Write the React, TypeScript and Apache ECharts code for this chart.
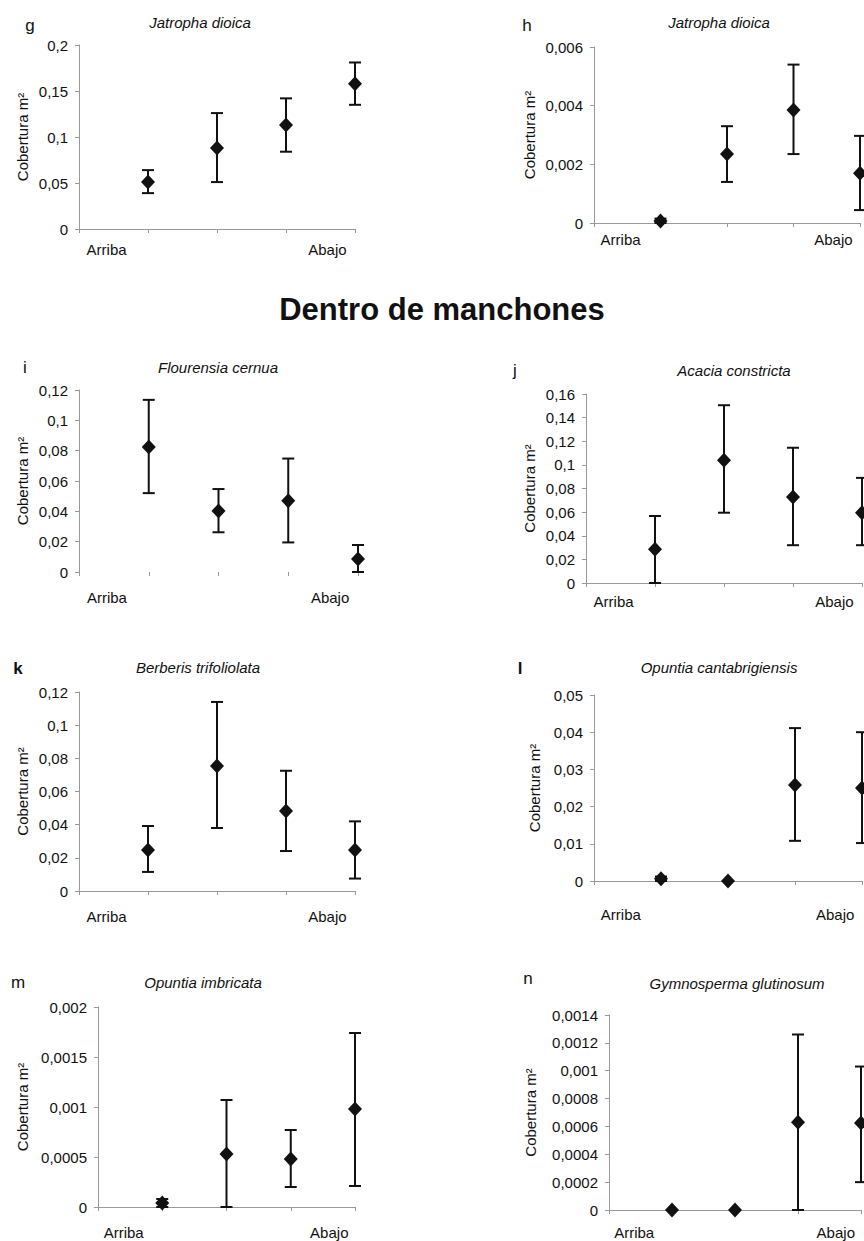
import React, { useEffect, useRef } from "react";
import * as echarts from "echarts";

// ---------- data ----------
const xPositions = [1, 2, 3, 4];
const xLabels = ["Arriba", "", "", "", "Abajo"];
const heading = "Dentro de manchones";

const panelLetters = ["g", "h", "i", "j", "k", "l", "m", "n"];
const panelTitles = [
  "Jatropha dioica",
  "Jatropha dioica",
  "Flourensia cernua",
  "Acacia constricta",
  "Berberis trifoliolata",
  "Opuntia cantabrigiensis",
  "Opuntia imbricata",
  "Gymnosperma glutinosum",
];
const yLabel = "Cobertura m²";

const gMean = [0.051, 0.088, 0.113, 0.158];
const gLow = [0.039, 0.051, 0.084, 0.135];
const gHigh = [0.064, 0.126, 0.142, 0.181];

const hMean = [0.00007, 0.00235, 0.00385, 0.0017];
const hLow = [0, 0.0014, 0.00235, 0.00044];
const hHigh = [0.00015, 0.0033, 0.0054, 0.00297];

const iMean = [0.0825, 0.0403, 0.047, 0.0085];
const iLow = [0.052, 0.0262, 0.0195, 0];
const iHigh = [0.1135, 0.0547, 0.0748, 0.0178];

const jMean = [0.0285, 0.104, 0.0728, 0.0595];
const jLow = [0, 0.0595, 0.032, 0.032];
const jHigh = [0.0567, 0.1505, 0.1145, 0.089];

const kMean = [0.0247, 0.0754, 0.0482, 0.0247];
const kLow = [0.0115, 0.038, 0.0241, 0.0075];
const kHigh = [0.0392, 0.114, 0.0725, 0.042];

const lMean = [0.0006, 0, 0.0258, 0.025];
const lLow = [0, 0, 0.0108, 0.0102];
const lHigh = [0.0012, 0, 0.0411, 0.04];

const mMean = [0.00004, 0.00053, 0.00048, 0.00098];
const mLow = [0, 0, 0.0002, 0.00021];
const mHigh = [0.00008, 0.00107, 0.00077, 0.00174];

const nMean = [0, 0, 0.00063, 0.000625];
const nLow = [0, 0, 0, 0.0002];
const nHigh = [0, 0, 0.00126, 0.00103];

const yMax = [0.2, 0.006, 0.12, 0.16, 0.12, 0.05, 0.002, 0.0014];
const yInterval = [0.05, 0.002, 0.02, 0.02, 0.02, 0.01, 0.0005, 0.0002];

const means = [gMean, hMean, iMean, jMean, kMean, lMean, mMean, nMean];
const lows = [gLow, hLow, iLow, jLow, kLow, lLow, mLow, nLow];
const highs = [gHigh, hHigh, iHigh, jHigh, kHigh, lHigh, mHigh, nHigh];

// ---------- layout ----------
const grids = [
  { left: 79, top: 45, width: 276, height: 184 },
  { left: 594, top: 47, width: 266, height: 176 },
  { left: 79, top: 390, width: 279, height: 182 },
  { left: 586, top: 394, width: 276, height: 189 },
  { left: 79, top: 692, width: 276, height: 199 },
  { left: 594, top: 695, width: 268, height: 186 },
  { left: 98, top: 1007, width: 257, height: 200 },
  { left: 609, top: 1015, width: 252, height: 195 },
];
const letterPos = [
  [30, 25], [527, 25], [25, 367], [515, 370],
  [18, 668], [520, 668], [18, 982], [528, 978],
];
const letterBold = [false, false, false, false, true, true, false, false];
const titlePos = [
  [200, 22], [719, 22], [218, 367], [734, 370],
  [198, 667], [719, 667], [203, 982], [737, 983],
];
const xLabelMargin = [13, 9, 18, 11, 18, 26, 18, 15];
const yNameGap = [49, 57, 49, 49, 49, 52, 68, 71];
const showXLine = [true, true, false, true, true, true, true, true];

const FONT = "'Liberation Sans', Arial, sans-serif";
const INK = "#111";
const AXIS = "#999";

const fmt = (v: number) => String(v).replace(".", ",");

export default function App() {
  const ref = useRef<HTMLDivElement>(null);
  useEffect(() => {
    document.body.style.margin = "0";
    if (!ref.current) return;
    const chart = echarts.init(ref.current, null, { renderer: "svg" });

    const xAxis: any[] = [];
    const yAxis: any[] = [];
    const series: any[] = [];
    const graphic: any[] = [];

    grids.forEach((g, p) => {
      xAxis.push({
        type: "value",
        gridIndex: p,
        min: 0,
        max: 4,
        interval: 1,
        axisLine: { show: showXLine[p], lineStyle: { color: AXIS, width: 1 } },
        axisTick: { show: true, length: 4, lineStyle: { color: AXIS } },
        axisLabel: { show: false },
        splitLine: { show: false },
      });
      xAxis.push({
        type: "category",
        gridIndex: p,
        position: "bottom",
        data: xLabels,
        boundaryGap: true,
        axisLine: { show: false },
        axisTick: { show: false },
        axisLabel: {
          interval: 0,
          margin: xLabelMargin[p],
          fontSize: 15,
          fontFamily: FONT,
          color: INK,
        },
        splitLine: { show: false },
      });
      yAxis.push({
        type: "value",
        gridIndex: p,
        min: 0,
        max: yMax[p],
        interval: yInterval[p],
        name: yLabel,
        nameLocation: "middle",
        nameRotate: 90,
        nameGap: yNameGap[p],
        nameTextStyle: { fontSize: 15, fontFamily: FONT, color: INK },
        axisLine: { show: true, lineStyle: { color: AXIS, width: 1 } },
        axisTick: { show: true, length: 4, lineStyle: { color: AXIS } },
        axisLabel: {
          margin: 11,
          fontSize: 15,
          fontFamily: FONT,
          color: INK,
          formatter: fmt,
        },
        splitLine: { show: false },
      });

      const errData = xPositions.map((x, k) => [x, lows[p][k], highs[p][k]]);
      series.push({
        type: "custom",
        xAxisIndex: 2 * p,
        yAxisIndex: p,
        data: errData,
        encode: { x: 0, y: [1, 2] },
        clip: false,
        z: 2,
        renderItem: (params: any, api: any) => {
          const x = api.value(0);
          const lo = api.coord([x, api.value(1)]);
          const hi = api.coord([x, api.value(2)]);
          const hw = 6;
          const st = { stroke: INK, lineWidth: 2 };
          return {
            type: "group",
            children: [
              { type: "line", shape: { x1: lo[0], y1: lo[1], x2: hi[0], y2: hi[1] }, style: st },
              { type: "line", shape: { x1: lo[0] - hw, y1: lo[1], x2: lo[0] + hw, y2: lo[1] }, style: st },
              { type: "line", shape: { x1: hi[0] - hw, y1: hi[1], x2: hi[0] + hw, y2: hi[1] }, style: st },
            ],
          };
        },
      });
      series.push({
        type: "scatter",
        xAxisIndex: 2 * p,
        yAxisIndex: p,
        data: xPositions.map((x, k) => [x, means[p][k]]),
        symbol: "diamond",
        symbolSize: [14, 15],
        itemStyle: { color: INK, opacity: 1 },
        clip: false,
        z: 3,
      });

      graphic.push({
        type: "text",
        x: letterPos[p][0],
        y: letterPos[p][1],
        style: {
          text: panelLetters[p],
          font: `${letterBold[p] ? "bold " : ""}17px ${FONT}`,
          fill: INK,
          textAlign: "center",
          textVerticalAlign: "middle",
        },
      });
      graphic.push({
        type: "text",
        x: titlePos[p][0],
        y: titlePos[p][1],
        style: {
          text: panelTitles[p],
          font: `italic 15px ${FONT}`,
          fill: INK,
          textAlign: "center",
          textVerticalAlign: "middle",
        },
      });
    });

    graphic.push({
      type: "text",
      x: 442,
      y: 309,
      style: {
        text: heading,
        font: `bold 31px ${FONT}`,
        fill: INK,
        textAlign: "center",
        textVerticalAlign: "middle",
      },
    });

    chart.setOption({
      animation: false,
      backgroundColor: "#fff",
      grid: grids.map((g) => ({ ...g, containLabel: false })),
      xAxis,
      yAxis,
      series,
      graphic,
    });
    return () => chart.dispose();
  }, []);

  return (
    <div
      ref={ref}
      style={{ position: "absolute", left: 0, top: 0, width: 864, height: 1241 }}
    />
  );
}
